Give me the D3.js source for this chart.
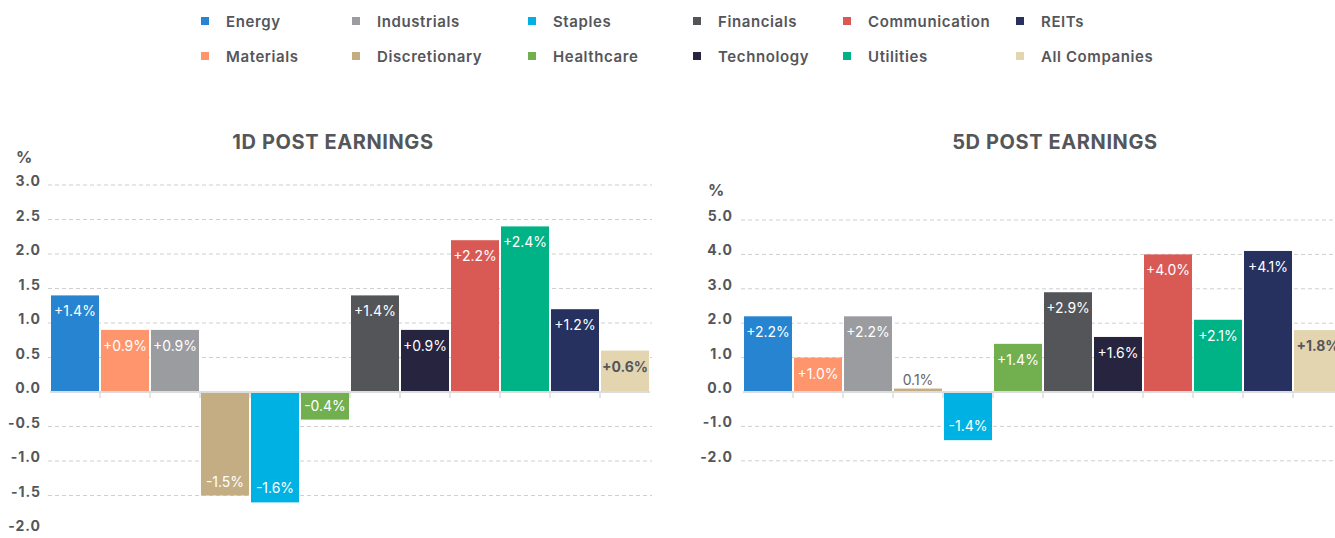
<!DOCTYPE html>
<html>
<head>
<meta charset="utf-8">
<script src="https://cdn.jsdelivr.net/npm/d3@7"></script>
<style>
  body { margin: 0; background: #fff; }
  svg text { font-family: Inter, "Liberation Sans", sans-serif; }
</style>
</head>
<body>
<div id="chart"></div>
<script>
// sectors, in bar order
var sectors = ["Energy", "Materials", "Industrials", "Discretionary", "Staples", "Healthcare",
  "Financials", "Technology", "Communication", "Utilities", "REITs", "All Companies"]
var colors = ["#2684d0", "#ff956c", "#9b9ca0", "#c4ad82", "#00b2e3", "#72b04f",
  "#545559", "#272440", "#d95a55", "#00b386", "#26315f", "#e3d5b0"]

// legend order (two rows)
var legendRow1 = ["Energy", "Industrials", "Staples", "Financials", "Communication", "REITs"]
var legendRow2 = ["Materials", "Discretionary", "Healthcare", "Technology", "Utilities", "All Companies"]

// values (%)
var oneDay = [1.4, 0.9, 0.9, -1.5, -1.6, -0.4, 1.4, 0.9, 2.2, 2.4, 1.2, 0.6]
var fiveDay = [2.2, 1.0, 2.2, 0.1, -1.4, 1.4, 2.9, 1.6, 4.0, 2.1, 4.1, 1.8]

var ticks1D = [3.0, 2.5, 2.0, 1.5, 1.0, 0.5, 0.0, -0.5, -1.0, -1.5, -2.0]
var ticks5D = [5.0, 4.0, 3.0, 2.0, 1.0, 0.0, -1.0, -2.0]

var color = d3.scaleOrdinal().domain(sectors).range(colors)
var textCol = "#55565a"

var svg = d3.select("#chart").append("svg").attr("width", 1335).attr("height", 538)

// legend
var legendX = [201, 352, 528, 693, 843, 1016]
function drawLegendRow(names, cy) {
  var g = svg.append("g")
  names.forEach(function(n, i) {
    g.append("rect")
      .attr("x", legendX[i]).attr("y", cy - 4)
      .attr("width", 8).attr("height", 8)
      .attr("fill", color(n))
    g.append("text")
      .attr("x", legendX[i] + 25).attr("y", cy + 5.5)
      .attr("font-size", 15).attr("font-weight", 600)
      .attr("letter-spacing", 0.6)
      .attr("fill", textCol)
      .text(n)
  })
}
drawLegendRow(legendRow1, 21)
drawLegendRow(legendRow2, 56)

function fmt(v) {
  return (v > 0 ? "+" : "") + v.toFixed(1) + "%"
}

function drawPanel(opt) {
  var g = svg.append("g")
  var x = d3.scaleBand().domain(sectors)
    .range([opt.x0, opt.x0 + 600])
    .paddingInner(0.04).paddingOuter(0.02)
  var y = d3.scaleLinear().domain([0, opt.top]).range([392, opt.topY])

  // title
  g.append("text")
    .attr("x", opt.titleX).attr("y", 149)
    .attr("text-anchor", "middle")
    .attr("font-size", 20).attr("font-weight", 700)
    .attr("letter-spacing", 0.6)
    .attr("fill", textCol)
    .text(opt.title)

  // unit label
  g.append("text")
    .attr("x", opt.pctX).attr("y", opt.pctY)
    .attr("font-size", 16).attr("font-weight", 700)
    .attr("fill", textCol)
    .text("%")

  // grid lines
  g.selectAll(".grid").data(opt.ticks.filter(function(t) { return t != 0 && y(t) < 520 }))
    .enter().append("line")
    .attr("x1", opt.x0 - 2).attr("x2", opt.gridEnd)
    .attr("y1", function(d) { return y(d) }).attr("y2", function(d) { return y(d) })
    .attr("stroke", "#cfcfcf").attr("stroke-width", 1)
    .attr("stroke-dasharray", "4,3")

  // tick labels
  g.selectAll(".tick").data(opt.ticks).enter().append("text")
    .attr("x", opt.labelX).attr("y", function(d) { return y(d) + 1 })
    .attr("text-anchor", "end")
    .attr("font-size", 14).attr("font-weight", 700)
    .attr("letter-spacing", 1)
    .attr("fill", textCol)
    .text(function(d) { return d.toFixed(1) })

  // bars
  var data = sectors.map(function(s, i) { return { name: s, v: opt.values[i] } })
  g.selectAll(".bar").data(data).enter().append("rect")
    .attr("x", function(d) { return x(d.name) })
    .attr("width", x.bandwidth())
    .attr("y", function(d) { return y(Math.max(0, d.v)) })
    .attr("height", function(d) { return Math.abs(y(d.v) - y(0)) })
    .attr("fill", function(d) { return color(d.name) })

  // zero line and category ticks
  g.append("line")
    .attr("x1", opt.x0).attr("x2", opt.x0 + 600)
    .attr("y1", 392).attr("y2", 392)
    .attr("stroke", "#dcdcdc").attr("stroke-width", 2)
  g.selectAll(".ctick").data(sectors.slice(1)).enter().append("line")
    .attr("x1", function(d) { return x(d) - 1 }).attr("x2", function(d) { return x(d) - 1 })
    .attr("y1", 392).attr("y2", 398)
    .attr("stroke", "#dcdcdc").attr("stroke-width", 1.5)

  // value labels
  g.selectAll(".val").data(data).enter().append("text")
    .attr("x", function(d) { return x(d.name) + x.bandwidth() / 2 })
    .attr("y", function(d) {
      var h = Math.abs(y(d.v) - y(0))
      if (h < 14) return y(d.v) - 4
      return d.v > 0 ? y(d.v) + 21 : y(d.v) - 9
    })
    .attr("text-anchor", "middle")
    .attr("font-size", 14)
    .attr("font-weight", function(d) { return d.name == "All Companies" ? 700 : 400 })
    .attr("fill", function(d) {
      var h = Math.abs(y(d.v) - y(0))
      if (h < 14) return "#666"
      return d.name == "All Companies" ? textCol : "#fff"
    })
    .text(function(d) { return d.v > 0 && Math.abs(y(d.v) - y(0)) < 14 ? d.v.toFixed(1) + "%" : fmt(d.v) })
}

drawPanel({ title: "1D POST EARNINGS", titleX: 333, x0: 50, gridEnd: 652, labelX: 41,
  pctX: 16, pctY: 163, top: 3, topY: 185, ticks: ticks1D, values: oneDay })
drawPanel({ title: "5D POST EARNINGS", titleX: 1055, x0: 743, gridEnd: 1335, labelX: 733,
  pctX: 708, pctY: 196, top: 5, topY: 220, ticks: ticks5D, values: fiveDay })
</script>
</body>
</html>
